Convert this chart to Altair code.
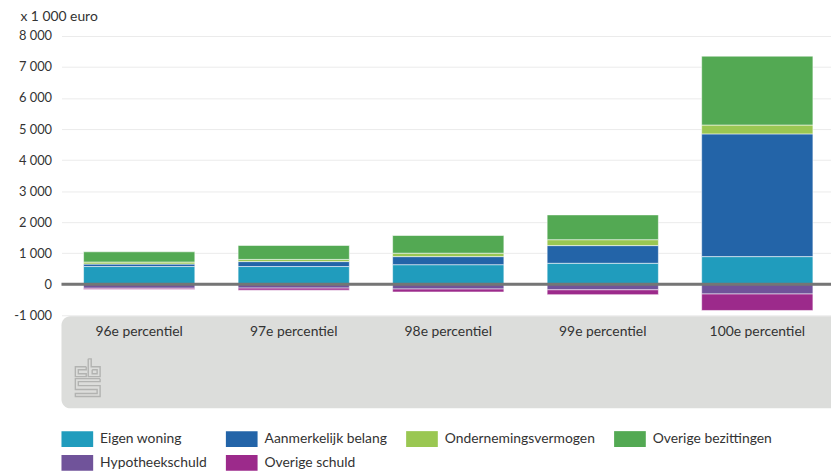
import altair as alt
import pandas as pd

categories = ["96e percentiel", "97e percentiel", "98e percentiel", "99e percentiel", "100e percentiel"]
series = ["Eigen woning", "Aanmerkelijk belang", "Ondernemingsvermogen",
          "Overige bezittingen", "Hypotheekschuld", "Overige schuld"]
colors = ["#209cbd", "#2364a8", "#9ac752", "#53a953", "#70539a", "#9c2a8b"]

eigen_woning = [570, 570, 630, 675, 890]
aanmerkelijk_belang = [80, 160, 260, 570, 3955]
ondernemingsvermogen = [65, 70, 110, 190, 285]
overige_bezittingen = [330, 450, 570, 800, 2220]
hypotheekschuld = [-130, -125, -155, -180, -315]
overige_schuld = [-40, -65, -95, -155, -530]
y_ticks = [-1000, 0, 1000, 2000, 3000, 4000, 5000, 6000, 7000, 8000]
baseline = [0]

values = [eigen_woning, aanmerkelijk_belang, ondernemingsvermogen,
          overige_bezittingen, hypotheekschuld, overige_schuld]

rows = []
for si, (s, vals) in enumerate(zip(series, values)):
    for c, v in zip(categories, vals):
        rows.append({"categorie": c, "reeks": s, "waarde": v, "volgorde": si})
df = pd.DataFrame(rows)

# decorative logo outline (pixel offsets inside the grey band)
logo_paths = {
    "c": [(87, 368), (76, 368), (76, 378), (87, 378), (87, 375), (79, 375), (79, 371), (87, 371), (87, 368)],
    "b": [(89, 360), (92, 360), (92, 368), (101, 368), (101, 378), (89, 378), (89, 360)],
    "bi": [(93, 371), (98, 371), (98, 375), (93, 375), (93, 371)],
    "s": [(101, 380), (76, 380), (76, 391), (98, 391), (98, 395), (76, 395), (76, 398),
          (101, 398), (101, 387), (79, 387), (79, 383), (101, 383), (101, 380)],
}
logo_rows = []
for name, pts in logo_paths.items():
    for i, (px, py) in enumerate(pts):
        logo_rows.append({"deel": name, "i": i, "px": px - 62, "py": py - 34})
logo_df = pd.DataFrame(logo_rows)

FONT = "Lato"
W, H = 777, 282

y_scale = alt.Scale(domain=[-1000, 8000], nice=False)
y_axis = alt.Axis(values=y_ticks, format=",d",
                  ticks=False, domain=False, labelPadding=10,
                  labelOverlap=False,
                  labelFontSize=13, labelColor="#333333", labelFont=FONT,
                  gridColor="#ebebeb", gridWidth=1,
                  titleAngle=0, titleAlign="left", titleBaseline="middle",
                  titleX=-42, titleY=-20, titleFontSize=14,
                  titleFontWeight="normal", titleColor="#333333",
                  titleFont=FONT)

box = alt.Chart(pd.DataFrame({"a": [0]})).mark_rect(
    color="#dcdddb", cornerRadius=9
).encode(
    x=alt.value(0), x2=alt.value(W + 20), y=alt.value(H + 1), y2=alt.value(H + 94)
)

logo = alt.Chart(logo_df).mark_line(color="#b2b3b1", strokeWidth=1.4).encode(
    x=alt.X("px:Q", scale=None, axis=None),
    y=alt.Y("py:Q", scale=None, axis=None),
    detail="deel:N",
    order="i:Q",
)

bars = alt.Chart(df).mark_bar(
    stroke="white", strokeWidth=1, strokeOpacity=0.55
).encode(
    x=alt.X("categorie:N", sort=categories, title=None,
            scale=alt.Scale(paddingInner=0.28, paddingOuter=0.13, align=0.55),
            axis=alt.Axis(labelAngle=0, ticks=False, domain=False, labelPadding=9,
                          labelFontSize=14, labelColor="#333333", labelFont=FONT,
                          zindex=1)),
    y=alt.Y("waarde:Q", stack="zero", title="x 1 000 euro", scale=y_scale, axis=y_axis),
    color=alt.Color("reeks:N", sort=series,
                    scale=alt.Scale(domain=series, range=colors),
                    legend=alt.Legend(title=None, orient="none", legendX=0, legendY=391,
                                      direction="horizontal",
                                      columns=4, columnPadding=19, rowPadding=0,
                                      symbolType="M-1,-0.5H1V0.5H-1Z", symbolSize=1024,
                                      symbolStrokeWidth=0, labelOffset=7,
                                      labelFontSize=14, labelColor="#333333",
                                      labelFont=FONT, labelLimit=300)),
    order=alt.Order("volgorde:Q", sort="ascending"),
)

zero = alt.Chart(pd.DataFrame({"waarde": baseline})).mark_rule(
    color="#757575", strokeWidth=3
).encode(
    y=alt.Y("waarde:Q", title="x 1 000 euro", scale=y_scale, axis=y_axis)
)

chart = alt.layer(box, logo, bars, zero).properties(
    width=W, height=H,
    autosize=alt.AutoSizeParams(type="none"),
    padding={"left": 54, "top": 26, "right": 0, "bottom": 155},
).configure(
    locale={"number": {"decimal": ",", "thousands": " ", "grouping": [3],
                       "currency": ["€", ""], "minus": "-"}}
).configure_axisY(labelOverlap=False).configure_view(stroke=None)

chart.save("out.html", embed_options={"renderer": "svg", "actions": False})
